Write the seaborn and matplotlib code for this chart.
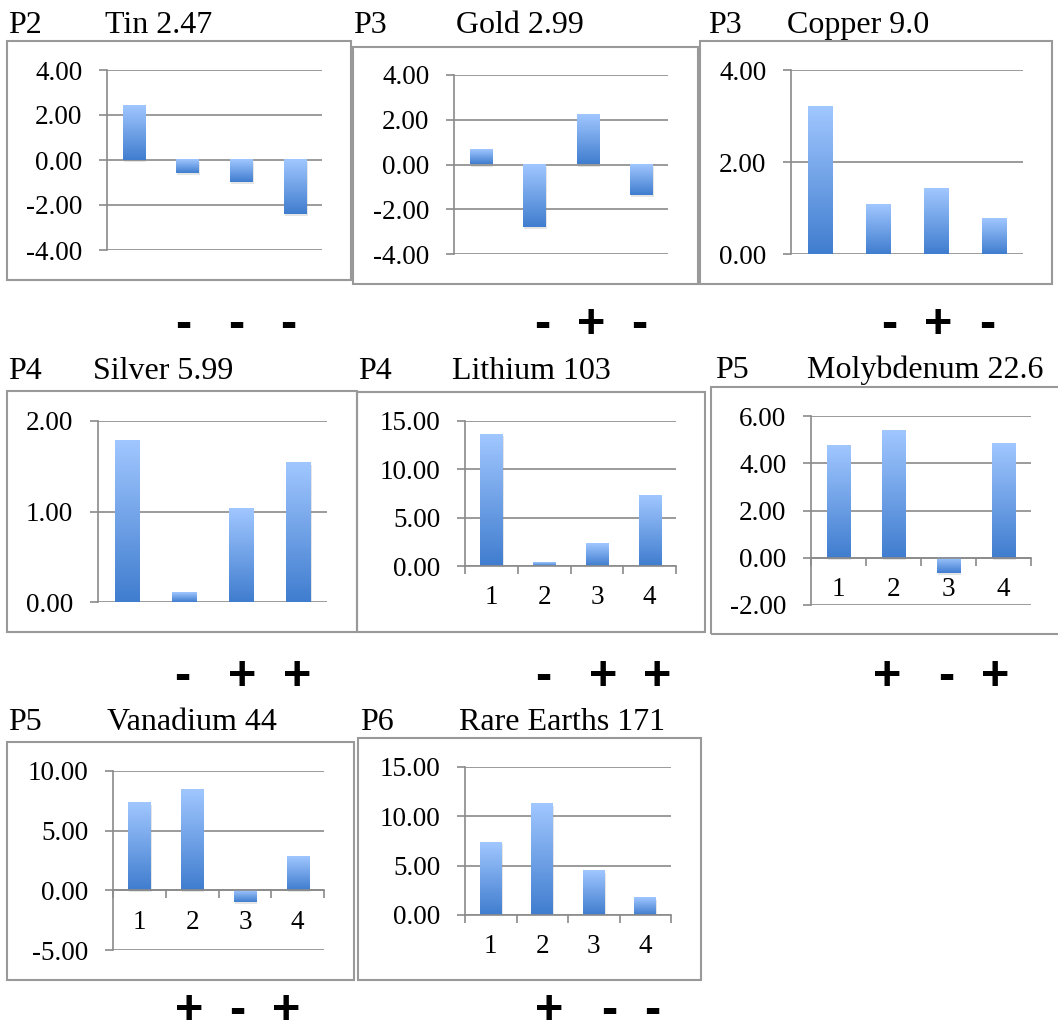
import numpy as np
import matplotlib
matplotlib.use("Agg")
import matplotlib.pyplot as plt
import matplotlib.patheffects as pe
from matplotlib.patches import Rectangle
from matplotlib.ticker import MultipleLocator, FormatStrFormatter, FixedLocator
import seaborn as sns

# values, quarters 1..4
quarters = ["1", "2", "3", "4"]
tin = [2.43, -0.59, -0.99, -2.41]
gold = [0.67, -2.79, 2.2, -1.36]
copper = [3.2, 1.08, 1.43, 0.78]
silver = [1.78, 0.1, 1.03, 1.54]
lithium = [13.62, 0.38, 2.34, 7.31]
molybdenum = [4.75, 5.39, -0.64, 4.84]
vanadium = [7.3, 8.41, -0.94, 2.79]
rare_earths = [7.38, 11.29, 4.46, 1.77]

# signs written under quarters 2..4
tin_signs = ["-", "-", "-"]
gold_signs = ["-", "+", "-"]
copper_signs = ["-", "+", "-"]
silver_signs = ["-", "+", "+"]
lithium_signs = ["-", "+", "+"]
molybdenum_signs = ["+", "-", "+"]
vanadium_signs = ["+", "-", "+"]
rare_earths_signs = ["+", "-", "-"]

sns.set_style("white")
plt.rcParams["font.family"] = ["Liberation Serif", "DejaVu Serif"]
plt.rcParams["text.color"] = "black"
plt.rcParams["xtick.labelcolor"] = "black"
plt.rcParams["ytick.labelcolor"] = "black"

W, H = 1058, 1034
fig = plt.figure(figsize=(W / 100, H / 100), dpi=100)

GRAY = "#8a8a8a"
top_c = np.array([0.63, 0.78, 1.0])
bot_c = np.array([0.25, 0.49, 0.81])
t = np.linspace(0, 1, 256)[:, None, None]
grad_img = top_c * (1 - t) + bot_c * t

# layout in pixels: axes (left, top, right, bottom), box (x0, y0, x1, y1)
panels = [
    dict(tag="P2", name="Tin 2.47", vals=tin, signs=tin_signs, ylim=(-4, 4), step=2,
         ax=(107, 70, 322, 250), box=(7, 41, 351, 280), tag_x=8, name_x=105, base=33,
         sign_x=(183, 236, 288), sign_base=338, xlab=False),
    dict(tag="P3", name="Gold 2.99", vals=gold, signs=gold_signs, ylim=(-4, 4), step=2,
         ax=(454, 75, 668, 254), box=(353, 47, 698, 284), tag_x=353, name_x=456, base=33,
         sign_x=(542, 591, 639), sign_base=338, xlab=False),
    dict(tag="P3", name="Copper 9.0", vals=copper, signs=copper_signs, ylim=(0, 4), step=2,
         ax=(791, 70, 1023, 254), box=(700, 41, 1052, 284), tag_x=708, name_x=787, base=33,
         sign_x=(889, 938, 987), sign_base=338, xlab=False),
    dict(tag="P4", name="Silver 5.99", vals=silver, signs=silver_signs, ylim=(0, 2), step=1,
         ax=(98, 421, 327, 602), box=(7, 391, 357, 632), tag_x=8, name_x=93, base=379,
         sign_x=(182, 242, 297), sign_base=690, xlab=False),
    dict(tag="P4", name="Lithium 103", vals=lithium, signs=lithium_signs, ylim=(0, 15), step=5,
         ax=(465, 421, 676, 566), box=(357, 392, 705, 632), tag_x=358, name_x=452, base=379,
         sign_x=(543, 603, 657), sign_base=690, xlab=True),
    dict(tag="P5", name="Molybdenum 22.6", vals=molybdenum, signs=molybdenum_signs, ylim=(-2, 6), step=2,
         ax=(811, 416, 1031, 605), box=(711, 387, 1062, 634), tag_x=715, name_x=807, base=378,
         sign_x=(887, 946, 995), sign_base=690, xlab=True),
    dict(tag="P5", name="Vanadium 44", vals=vanadium, signs=vanadium_signs, ylim=(-5, 10), step=5,
         ax=(113, 771, 324, 950), box=(7, 742, 354, 980), tag_x=8, name_x=107, base=730,
         sign_x=(189, 237, 286), sign_base=1024, xlab=True),
    dict(tag="P6", name="Rare Earths 171", vals=rare_earths, signs=rare_earths_signs, ylim=(0, 15), step=5,
         ax=(465, 767, 671, 915), box=(358, 738, 701, 980), tag_x=360, name_x=459, base=730,
         sign_x=(549, 609, 652), sign_base=1024, xlab=True),
]

pos = list(range(len(quarters)))

for p in panels:
    l, tp, r, b = p["ax"]
    ax = fig.add_axes([l / W, 1 - b / H, (r - l) / W, (b - tp) / H])
    sns.barplot(x=pos, y=p["vals"], ax=ax, color=bot_c, width=0.42, errorbar=None)

    # gradient fill + soft shadow for every bar
    for patch in list(ax.patches):
        bb = patch.get_bbox()
        x0, x1 = sorted([bb.x0, bb.x1])
        y0, y1 = sorted([bb.y0, bb.y1])
        ax.imshow(grad_img, extent=[x0, x1, y0, y1], origin="upper",
                  aspect="auto", interpolation="bicubic", zorder=1.5)
        patch.set_facecolor("none")
        patch.set_edgecolor("none")
        patch.set_zorder(1.0)
        patch.set_path_effects([pe.SimplePatchShadow(offset=(0.8, -1.5),
                                                     shadow_rgbFace="0.5", alpha=0.2)])

    ax.set_xlim(-0.5, len(quarters) - 0.5)
    ax.set_ylim(*p["ylim"])
    ax.yaxis.set_major_locator(MultipleLocator(p["step"]))
    ax.yaxis.set_major_formatter(FormatStrFormatter("%.2f"))
    ax.tick_params(axis="y", left=True, direction="out", length=5.8, width=1.2,
                   color=GRAY, pad=12, labelsize=19.5, labelcolor="black")
    ax.yaxis.grid(True, color=GRAY, lw=1.2)
    ax.xaxis.grid(False)
    ax.set_axisbelow(True)
    ax.set_facecolor("none")

    for s in ["top", "right"]:
        ax.spines[s].set_visible(False)
    ax.spines["left"].set_color(GRAY)
    ax.spines["left"].set_linewidth(1.2)

    if p["xlab"]:
        ax.spines["bottom"].set_position(("data", 0))
        ax.spines["bottom"].set_color(GRAY)
        ax.spines["bottom"].set_linewidth(1.2)
        ax.set_xticks(pos)
        ax.set_xticklabels(quarters)
        ax.xaxis.set_minor_locator(FixedLocator(np.arange(-0.5, len(quarters), 1)))
        ax.tick_params(axis="x", which="major", bottom=True, length=0, pad=14,
                       labelsize=19.5, labelcolor="black")
        ax.tick_params(axis="x", which="minor", bottom=True, direction="out",
                       length=5.8, width=1.2, color=GRAY)
    else:
        ax.spines["bottom"].set_visible(False)
        ax.set_xticks([])
    ax.set_xlabel("")
    ax.set_ylabel("")

    x0, y0, x1, y1 = p["box"]
    fig.add_artist(Rectangle((x0 / W, 1 - y1 / H), (x1 - x0) / W, (y1 - y0) / H,
                             transform=fig.transFigure, fill=False, ec="#999999", lw=1.5))

    fig.text(p["tag_x"] / W, 1 - p["base"] / H, p["tag"], fontsize=23, va="baseline",
             ha="left", color="black")
    fig.text(p["name_x"] / W, 1 - p["base"] / H, p["name"], fontsize=23, va="baseline",
             ha="left", color="black")

    for sx, sg in zip(p["sign_x"], p["signs"]):
        fig.text(sx / W, 1 - p["sign_base"] / H, sg, fontsize=35, fontweight="bold",
                 family=["Liberation Sans", "DejaVu Sans"], ha="center", va="baseline",
                 color="black")

fig.savefig("out.png", dpi=100)
